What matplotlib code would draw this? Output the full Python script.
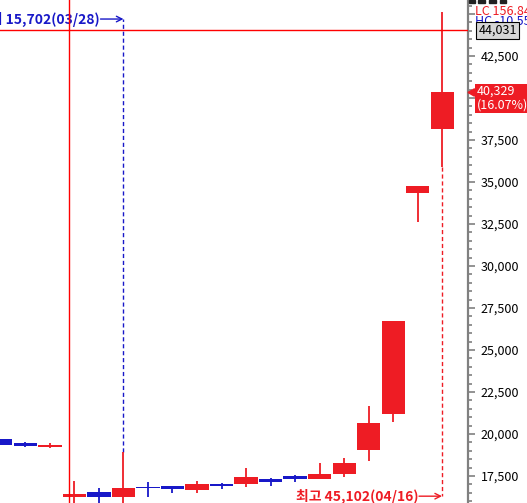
import matplotlib
matplotlib.use('Agg')
import matplotlib.pyplot as plt
from matplotlib.patches import Rectangle, Polygon

plt.rcParams['font.family'] = ['Noto Sans CJK KR', 'DejaVu Sans']

# 일봉 데이터 (시가, 고가, 저가, 종가)
opens = [19700, 19460, 19250, 16250, 16570, 16250, 16800, 16900, 16670, 17040,
         17010, 17320, 17480, 17320, 17620, 19050, 21190, 34350, 38150]
highs = [19700, 19530, 19460, 17200, 16790, 18930, 17140, 16900, 17200, 17090,
         17980, 17400, 17560, 18270, 18570, 21670, 26750, 34780, 45102]
lows = [19350, 19230, 19170, 15850, 15850, 15702, 16250, 16490, 16460, 16730,
        16850, 16920, 17120, 17320, 17460, 18410, 20730, 32640, 35880]
closes = [19350, 19290, 19310, 16430, 16270, 16790, 16780, 16730, 17040, 16920,
          17440, 17160, 17320, 17620, 18290, 20660, 26750, 34745, 40329]

major_ticks = [17500, 20000, 22500, 25000, 27500, 30000, 32500, 35000,
               37500, 40000, 42500, 45000]
tick_labels = ['17,500', '20,000', '22,500', '25,000', '27,500', '30,000',
               '32,500', '35,000', '37,500', '', '42,500', '']

low_idx, low_text = 5, '최저 15,702(03/28)'
high_idx, high_text = 18, '최고 45,102(04/16)'
last_text = '40,329\n(16.07%)'
cross_idx, cross_value, cross_text = 2.78, 44031, '44,031'

RED = '#ee1c24'
BLUE = '#1818c8'
AXIS = '#808080'

fig = plt.figure(figsize=(5.27, 5.03), dpi=100)
ax = fig.add_axes([0, 0, 468 / 527, 1])
ax.set_xlim(-0.04, 19.06)
ax.set_ylim(15894, 45833)

# 캔들
for i, (o, h, l, c) in enumerate(zip(opens, highs, lows, closes)):
    col = RED if c >= o else BLUE
    ax.vlines(i, l, h, color=col, lw=1.3, zorder=3)
    bottom = min(o, c)
    height = max(abs(c - o), 90)
    ax.add_patch(Rectangle((i - 0.47, bottom), 0.94, height, facecolor=col,
                           edgecolor='none', zorder=4))

# 십자선
ax.axhline(cross_value, color='#ff0000', lw=1, zorder=5)
ax.axvline(cross_idx, color='#ff0000', lw=1, zorder=5)

# 최저가 표시
low_y = 44700
ax.vlines(low_idx, highs[low_idx], low_y, color=BLUE, lw=1,
          linestyles=(0, (3, 2)), zorder=2)
ax.annotate('', xy=(low_idx, low_y), xytext=(-23, 0), textcoords='offset pixels',
            arrowprops=dict(arrowstyle='->', color=BLUE, lw=1,
                            shrinkA=0, shrinkB=0))
ax.annotate(low_text, xy=(low_idx, low_y), xytext=(-24, 0),
            textcoords='offset pixels', ha='right', va='center',
            color=BLUE, fontsize=10, fontweight='bold')

# 최고가 표시
high_y = 16300
ax.vlines(high_idx, lows[high_idx], high_y, color=RED, lw=1,
          linestyles=(0, (3, 2)), zorder=2)
ax.annotate('', xy=(high_idx, high_y), xytext=(-23, 0), textcoords='offset pixels',
            arrowprops=dict(arrowstyle='->', color=RED, lw=1,
                            shrinkA=0, shrinkB=0))
ax.annotate(high_text, xy=(high_idx, high_y), xytext=(-24, 0),
            textcoords='offset pixels', ha='right', va='center',
            color=RED, fontsize=10, fontweight='bold')

# 오른쪽 축
for s in ['left', 'top', 'bottom']:
    ax.spines[s].set_visible(False)
ax.spines['right'].set_color(AXIS)
ax.spines['right'].set_linewidth(1.6)
ax.set_xticks([])
ax.yaxis.tick_right()
ax.set_yticks(major_ticks, labels=tick_labels)
ax.set_yticks(range(16000, 46000, 500), minor=True)
ax.tick_params(axis='y', which='major', length=5, width=1.2, color=AXIS,
               labelsize=9, labelcolor='black', pad=4)
ax.tick_params(axis='y', which='minor', length=3, width=1.2, color=AXIS)

# 현재가 라벨
trans = ax.get_yaxis_transform()
ax.add_patch(Polygon([(1.0, closes[-1]), (1.014, closes[-1] + 220),
                      (1.014, closes[-1] - 220)], closed=True,
                     transform=trans, color=RED, clip_on=False, zorder=6))
ax.text(1.018, closes[-1] - 350, last_text, transform=trans, ha='left',
        va='center', color='white', fontsize=9, linespacing=1.05,
        bbox=dict(boxstyle='square,pad=0.12', facecolor=RED, edgecolor='none'),
        clip_on=False, zorder=6)

# 상단 지표 텍스트
ax.text(1.015, 45150, 'LC 156.84', transform=trans, ha='left', va='center',
        color=RED, fontsize=9, clip_on=False)
ax.text(1.015, 44550, 'HC -10.55', transform=trans, ha='left', va='center',
        color=BLUE, fontsize=9, clip_on=False)
ax.text(1.022, cross_value, cross_text, transform=trans, ha='left', va='center',
        color='black', fontsize=9, clip_on=False, zorder=7,
        bbox=dict(boxstyle='square,pad=0.15', facecolor='#d6d6d6',
                  edgecolor='black', lw=0.8))

# 상단 아이콘 잘린 부분
for x0, w in [(469, 6), (478, 7), (489, 7), (500, 6)]:
    fig.patches.append(Rectangle((x0 / 527, 1 - 3 / 503), w / 527, 3 / 503,
                                 transform=fig.transFigure, color='#222222'))

fig.savefig('out.png', dpi=100)
